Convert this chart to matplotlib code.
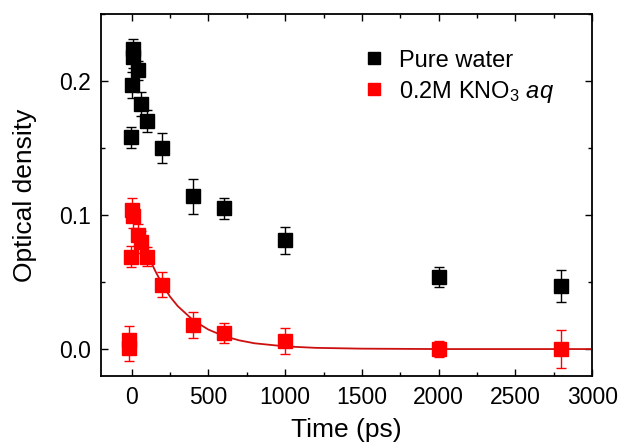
import matplotlib
matplotlib.use("Agg")
import matplotlib.pyplot as plt
from matplotlib.lines import Line2D
from matplotlib.ticker import MultipleLocator, FormatStrFormatter

plt.rcParams['font.family'] = ['Liberation Sans', 'DejaVu Sans']
plt.rcParams['mathtext.fontset'] = 'custom'
plt.rcParams['mathtext.rm'] = 'Liberation Sans'
plt.rcParams['mathtext.it'] = 'Liberation Sans:italic'

# Pure water
water_t = [-5, 0, 5, 10, 40, 60, 100, 200, 400, 600, 1000, 2000, 2800]
water_od = [0.158, 0.197, 0.218, 0.224, 0.208, 0.183, 0.170, 0.150,
            0.114, 0.105, 0.081, 0.054, 0.047]
water_err = [0.008, 0.010, 0.008, 0.007, 0.007, 0.009, 0.008, 0.011,
             0.013, 0.008, 0.010, 0.0075, 0.012]

# 0.2M KNO3 aq
kno3_t = [-20, -15, -5, 0, 10, 40, 60, 100, 200, 400, 600, 1000, 2000, 2800]
kno3_od = [0.001, 0.007, 0.069, 0.104, 0.099, 0.085, 0.080, 0.069, 0.048,
           0.018, 0.012, 0.006, 0.0, 0.0]
kno3_err = [0.010, 0.010, 0.008, 0.009, 0.009, 0.008, 0.008, 0.007, 0.0095,
            0.010, 0.0075, 0.010, 0.006, 0.014]

# fit curve
fit_t = [80, 100, 150, 200, 250, 300, 400, 500, 600, 700, 800, 1000, 1200,
         1500, 2000, 3000]
fit_od = [0.076, 0.0715, 0.059, 0.048, 0.039, 0.032, 0.0215, 0.0145, 0.0097,
          0.0065, 0.0043, 0.002, 0.0009, 0.0003, 0.0, 0.0]

black = '#000000'
red = '#ff0000'

fig = plt.figure(figsize=(6.2, 4.48), dpi=100)
ax = fig.add_axes([0.163, 0.161, 0.792, 0.808])

ax.plot(fit_t, fit_od, color='#cc1010', lw=1.3, zorder=2)

ax.errorbar(water_t, water_od, yerr=water_err, fmt='s', color=black,
            ms=9.7, capsize=3.4, elinewidth=1, capthick=1, zorder=3)
ax.errorbar(kno3_t, kno3_od, yerr=kno3_err, fmt='s', color=red,
            ms=9.7, capsize=3.4, elinewidth=1, capthick=1, zorder=3)

ax.set_xlim(-200, 3000)
ax.set_ylim(-0.02, 0.25)
ax.xaxis.set_major_locator(MultipleLocator(500))
ax.xaxis.set_minor_locator(MultipleLocator(250))
ax.yaxis.set_major_locator(MultipleLocator(0.1))
ax.yaxis.set_minor_locator(MultipleLocator(0.05))
ax.yaxis.set_major_formatter(FormatStrFormatter('%.1f'))

ax.tick_params(which='both', direction='in', top=True, right=True,
               labelsize=16.5, width=1)
ax.tick_params(which='major', length=5, pad=7)
ax.tick_params(which='minor', length=3)
for s in ax.spines.values():
    s.set_linewidth(1.3)

ax.set_xlabel('Time (ps)', fontsize=19, labelpad=7)
ax.set_ylabel('Optical density', fontsize=19, labelpad=16)

handles = [Line2D([], [], ls='none', marker='s', color=black, ms=8.5),
           Line2D([], [], ls='none', marker='s', color=red, ms=8.5)]
ax.legend(handles, ['Pure water', r'0.2M KNO$_3$ $aq$'], loc='upper right',
          bbox_to_anchor=(0.965, 0.96), frameon=False, fontsize=17,
          handlelength=0.7, handletextpad=0.7, labelspacing=0.3)

fig.savefig('out.png', dpi=100)
